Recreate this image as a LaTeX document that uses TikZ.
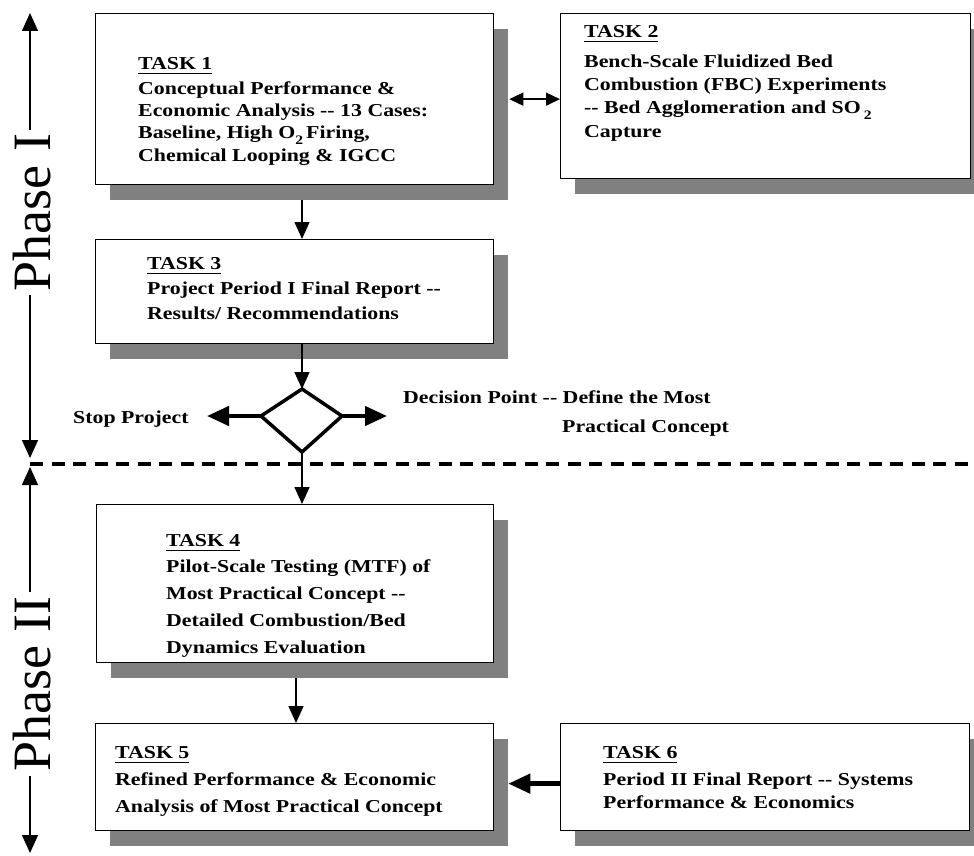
\documentclass[tikz,border=0pt]{standalone}
\usepackage{fontspec}
\setmainfont{Liberation Serif}[Ligatures=TeXOff]
\newfontfamily\taskfont{Liberation Serif}[FakeStretch=1.2,Ligatures=TeXOff]
\usetikzlibrary{arrows.meta,shapes.geometric,shadows}
\definecolor{shadowgray}{RGB}{128,128,128}
\newcommand\tul[1]{\setbox0\hbox{#1}\rlap{\rule[-5pt]{\wd0}{1.4pt}}\box0}
\newcommand\tsub[1]{\raisebox{-6pt}{\fontsize{13}{13}\selectfont #1}}
\newcommand\tlines[2]{\fontsize{18.2}{#1}\selectfont\begin{tabular}[t]{@{}l@{}}#2\end{tabular}}
\begin{document}
\begin{tikzpicture}[x=1pt,y=-1pt,
  taskbox/.style={draw=black, line width=1.3pt, fill=white, anchor=north west, inner sep=0pt,
    drop shadow={shadow xshift=14pt, shadow yshift=-15pt, fill=shadowgray, opacity=1}},
  txt/.style={anchor=base west, inner sep=0pt, font=\taskfont\bfseries},
  thinarr/.style={line width=1.4pt, -{Triangle[length=17pt,width=15pt]}},
  thickarr/.style={line width=4.5pt, -{Triangle[length=22pt,width=19pt]}},
  dblarr/.style={line width=1.4pt, {Triangle[length=14pt,width=13pt]}-{Triangle[length=14pt,width=13pt]}},
  phasearr/.style={line width=1.4pt, -{Triangle[length=18pt,width=16pt]}},
  phase/.style={rotate=90, anchor=base, inner xsep=4pt, inner ysep=0pt, font=\fontsize{54}{60}\selectfont},
  diam/.style={line width=3.5pt, line join=miter, fill=white},
]
\useasboundingbox (0,0) rectangle (974,856);

% boxes
\node[taskbox, minimum width=398pt, minimum height=171pt] (t1) at (95,13) {};
\node[taskbox, minimum width=410pt, minimum height=165pt] (t2) at (560,13) {};
\node[taskbox, minimum width=398pt, minimum height=104pt] (t3) at (95,239) {};
\node[taskbox, minimum width=397pt, minimum height=158pt] (t4) at (96,504) {};
\node[taskbox, minimum width=398pt, minimum height=107pt] (t5) at (95,723) {};
\node[taskbox, minimum width=409pt, minimum height=107pt] (t6) at (560,723) {};

% texts
\node[txt] (x1) at (138,69.5) {\tlines{22.3}{\tul{TASK 1}\\[2.5pt] Conceptual Performance \&\\ Economic Analysis -- 13 Cases:\\ Baseline, High O\tsub{2}\,Firing,\\ Chemical Looping \& IGCC}};
\node[txt] (x2) at (584,37.5) {\tlines{23.3}{\tul{TASK 2}\\[6.5pt] Bench-Scale Fluidized Bed\\ Combustion (FBC) Experiments\\ -- Bed Agglomeration and SO\,\tsub{2}\\ Capture}};
\node[txt] (x3) at (147,269) {\tlines{25}{\tul{TASK 3}\\ Project Period I Final Report --\\ Results/ Recommendations}};
\node[txt] (x4) at (166,546) {\tlines{26.75}{\tul{TASK 4}\\ Pilot-Scale Testing (MTF) of\\ Most Practical Concept --\\ Detailed Combustion/Bed\\ Dynamics Evaluation}};
\node[txt] (x5) at (115,758) {\tlines{27}{\tul{TASK 5}\\ Refined Performance \& Economic\\ Analysis of Most Practical Concept}};
\node[txt] (x6) at (603,758) {\tlines{23}{\tul{TASK 6}\\[4pt] Period II Final Report -- Systems\\ Performance \& Economics}};

% decision diamond
\coordinate (dN) at (302,389);
\coordinate (dE) at (342,416);
\coordinate (dS) at (302,452);
\coordinate (dW) at (261,416);
\draw[diam] (dN) -- (dE) -- (dS) -- (dW) -- cycle;

\node[txt] (stop) at (73,423) {\tlines{20}{Stop Project}};
\node[txt] (dtext) at (403,403) {\tlines{29}{Decision Point -- Define the Most\\ \hspace*{159pt}Practical Concept}};
\coordinate (stoptip) at (207,416);
\coordinate (dectip) at (387,416);

% shadow edges
\coordinate (s5e) at ([xshift=14pt]t5.east);
\coordinate (s1e) at ([xshift=15pt]t1.east);

% connectors
\draw[thinarr] ([yshift=-15pt]t1.south -| dN) -- (t3.north -| dN);
\draw[thinarr] (t3.south -| dN) -- (dN);
\draw[thickarr] (dW) -- (stoptip);
\draw[thickarr] (dE) -- (dectip);
\draw[thinarr] (dS) -- (t4.north -| dS);
\coordinate (c45) at (296,0);
\draw[thinarr] ([yshift=-15pt]t4.south -| c45) -- (t5.north -| c45);
\draw[thickarr] ([yshift=-6.5pt]t6.west) -- ([yshift=-6.5pt]t6.west -| s5e);
\draw[dblarr] (s1e) -- (s1e -| t2.west);

% dashed phase separator
\coordinate (dl) at (30,464);
\coordinate (dr) at (974,464);
\draw[line width=4pt, dash pattern=on 13pt off 8.5pt] (dl) -- (dr);

% phase labels
\node[phase] (p1) at (50,212.5) {Phase I};
\node[phase] (p2) at (50,684) {Phase II};
\coordinate (p1top) at (30,13);
\coordinate (p1bot) at (30,458);
\coordinate (p2top) at (30,467);
\coordinate (p2bot) at (30,853);
\draw[phasearr] (p1.east -| p1top) -- (p1top);
\draw[phasearr] (p1.west -| p1bot) -- (p1bot);
\draw[phasearr] (p2.east -| p2top) -- (p2top);
\draw[phasearr] (p2.west -| p2bot) -- (p2bot);
\end{tikzpicture}
\end{document}
